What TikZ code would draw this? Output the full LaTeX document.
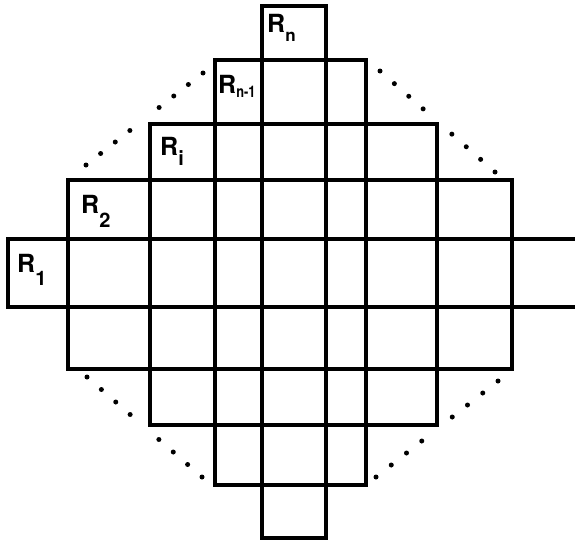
\documentclass[tikz,border=0pt]{standalone}
\usepackage{fontspec}
\setmainfont{TeX Gyre Heros}
\usetikzlibrary{calc}
\newcommand\rlab[3]{{\fontsize{25}{25}\selectfont\bfseries R}{\raisebox{-#2pt}{\fontsize{#3}{#3}\selectfont\bfseries #1}}}
\begin{document}
\begin{tikzpicture}[x=1pt,y=-1pt,
  box/.style={line width=3.4pt,line join=miter},
  lab/.style={inner sep=0pt,anchor=base west},
  dotmark/.style={fill=black}]
\useasboundingbox (0,0) rectangle (575,543);
% rectangles
\draw[box] (575,239) -- (8,239) -- (8,307) -- (575,307);
\draw[box] (68,180) rectangle (512,369);
\draw[box] (150,124) rectangle (437,425);
\draw[box] (215,60) rectangle (366,485);
\draw[box] (262,6) rectangle (326,538);
% labels
\node[lab] (rn) at (267,33) {\rlab{n}{9}{17}};
\node[lab] (rnm) at (218,93) {{\fontsize{25}{25}\selectfont\bfseries R}{\raisebox{-4pt}{\scalebox{0.8}[1]{\fontsize{16}{16}\selectfont\bfseries n-1}}}};
\node[lab] (ri) at (160,155) {\rlab{i}{10}{20}};
\node[lab] (r2) at (81,213) {\rlab{2}{14}{20}};
\node[lab] (r1) at (17,272) {\rlab{1}{13}{20}};
% dotted envelopes
\coordinate (ula) at (86,165);  \coordinate (ulb) at (203,73);
\coordinate (ura) at (380,71);  \coordinate (urb) at (495,172);
\coordinate (lla) at (87,377);  \coordinate (llb) at (202,477);
\coordinate (lra) at (498,381); \coordinate (lrb) at (376,477);
\foreach \a/\b in {ula/ulb,ura/urb,lla/llb,lra/lrb}{
  \foreach \k in {0,1,2,3,5,6,7,8}{
    \fill[dotmark] ($(\a)!\k/8!(\b)$) circle (2.5);
  }
}
\end{tikzpicture}
\end{document}
